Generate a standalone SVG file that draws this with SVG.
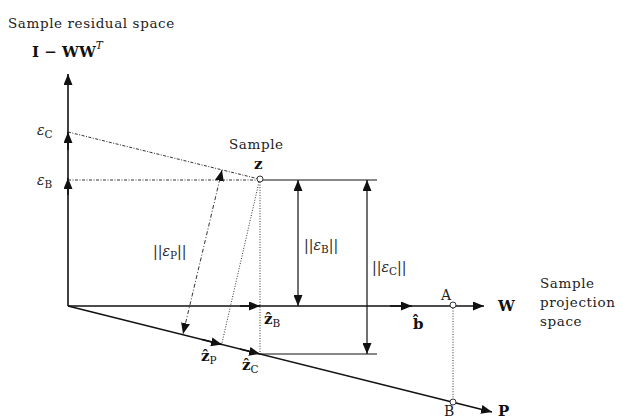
<svg xmlns="http://www.w3.org/2000/svg" width="632" height="419" viewBox="0 0 632 419">
<style>
.t{font-family:"DejaVu Serif","Liberation Serif",serif;font-size:13.5px;letter-spacing:0.6px;fill:#222}
.b{font-family:"DejaVu Serif","Liberation Serif",serif;font-size:15px;font-weight:bold;fill:#111}
.m{font-family:"DejaVu Serif","Liberation Serif",serif;font-size:14px;fill:#222}
.s{font-size:10.5px;font-weight:normal;font-style:normal}
.ax{stroke:#111;stroke-width:1.6;fill:none}
.ln{stroke:#111;stroke-width:1.2;fill:none}
.dd{stroke:#333;stroke-width:1;fill:none;stroke-dasharray:3 1.5 1 1.5}
.dt{stroke:#333;stroke-width:1;fill:none;stroke-dasharray:1 1.6}
.dp{stroke:#333;stroke-width:1;fill:none;stroke-dasharray:4 2 1 2}
.circ{fill:#fff;stroke:#333;stroke-width:1}
</style>
<defs>
<marker id="ah" markerUnits="userSpaceOnUse" markerWidth="11" markerHeight="9" refX="11" refY="4.5" orient="auto-start-reverse">
<path d="M0,0 L11,4.5 L0,9 z" fill="#111"/>
</marker>
</defs>
<g id="connectors">
<path class="ax" d="M68,306 L68,74" marker-end="url(#ah)"/>
<path class="ax" d="M68,306 L484,306" marker-end="url(#ah)"/>
<path class="ax" d="M68,306 L492,412" marker-end="url(#ah)"/>
<path class="ax" d="M68,150 L68,132" marker-end="url(#ah)"/>
<path class="ax" d="M68,195 L68,178" marker-end="url(#ah)"/>
<path class="ax" d="M240,306 L260,306" marker-end="url(#ah)"/>
<path class="ax" d="M390,306 L412,306" marker-end="url(#ah)"/>
<path class="ax" d="M202,339.5 L222,344.5" marker-end="url(#ah)"/>
<path class="ax" d="M240,349 L260,354" marker-end="url(#ah)"/>
<path class="dd" d="M68,180 L257,180"/>
<path class="dd" d="M68,132 L257,178.5"/>
<path class="dp" d="M222,170 L183,334" marker-start="url(#ah)" marker-end="url(#ah)"/>
<path class="dt" d="M259,182 L222,343"/>
<path class="dt" d="M260,182 L260,354"/>
<path class="dt" d="M453,308 L453,399"/>
<path class="ln" d="M263,180 L377,180"/>
<path class="ln" d="M260,354 L377,354"/>
<path class="ln" d="M298,180 L298,306" marker-start="url(#ah)" marker-end="url(#ah)"/>
<path class="ln" d="M367,180 L367,354" marker-start="url(#ah)" marker-end="url(#ah)"/>
</g>
<g id="z"><circle class="circ" cx="260" cy="179" r="3"/><text class="t" x="229" y="149">Sample</text><text class="b" x="254" y="169">z</text></g>
<g id="A"><circle class="circ" cx="453" cy="305" r="3"/><text class="m" x="441" y="300">A</text></g>
<g id="B"><circle class="circ" cx="453" cy="402" r="3"/><text class="m" x="444" y="416">B</text></g>
<g id="residual-axis"><text class="t" x="8" y="28">Sample residual space</text><text class="b" x="32" y="57">I − WW<tspan font-style="italic" font-weight="normal" font-size="10.5" dy="-8">T</tspan></text></g>
<g id="eps-C"><text class="m" x="37" y="135"><tspan font-style="italic">ε</tspan><tspan class="s" dy="3">C</tspan></text></g>
<g id="eps-B"><text class="m" x="37" y="185"><tspan font-style="italic">ε</tspan><tspan class="s" dy="3">B</tspan></text></g>
<g id="norm-eps-P"><text class="m" x="153" y="256">||<tspan font-style="italic">ε</tspan><tspan class="s" font-style="italic" dy="3">P</tspan><tspan dy="-3">||</tspan></text></g>
<g id="norm-eps-B"><text class="m" x="304" y="250">||<tspan font-style="italic">ε</tspan><tspan class="s" dy="3">B</tspan><tspan dy="-3">||</tspan></text></g>
<g id="norm-eps-C"><text class="m" x="372" y="272">||<tspan font-style="italic">ε</tspan><tspan class="s" dy="3">C</tspan><tspan dy="-3">||</tspan></text></g>
<g id="zB"><text class="b" x="264" y="324">ẑ<tspan class="s" dy="3">B</tspan></text></g>
<g id="bhat"><text class="b" x="413" y="329">b̂</text></g>
<g id="zP"><text class="b" x="201" y="361">ẑ<tspan class="s" dy="3">P</tspan></text></g>
<g id="zC"><text class="b" x="242" y="370">ẑ<tspan class="s" dy="3">C</tspan></text></g>
<g id="W"><text class="b" x="498" y="311">W</text></g>
<g id="P"><text class="b" x="498" y="416">P</text></g>
<g id="projection-space"><text class="t" x="540" y="288">Sample</text><text class="t" x="540" y="307">projection</text><text class="t" x="540" y="326">space</text></g>
</svg>
